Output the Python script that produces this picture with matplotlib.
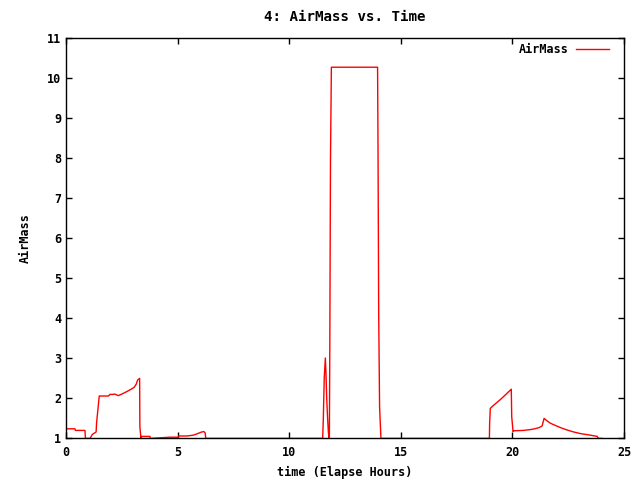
import matplotlib
matplotlib.use("Agg")
import matplotlib.pyplot as plt

# airmass track (elapsed hours, airmass)
# values of 0.99 mark the "off" stretches that sit on / below the axis
hours = [0.00, 0.02, 0.40, 0.42, 0.85, 0.87, 1.08, 1.18, 1.35, 1.37, 1.49,
         1.90, 1.97, 2.12, 2.17, 2.35, 2.47, 2.69, 2.92, 3.06, 3.15, 3.21,
         3.30, 3.31, 3.36, 3.39, 3.76, 3.78,
         4.66, 5.03, 5.05, 5.40, 5.70, 5.85, 6.08, 6.18, 6.24, 6.26,
         11.50, 11.53, 11.57, 11.62, 11.65, 11.68, 11.72, 11.75, 11.78,
         11.80, 11.82, 11.85, 11.89, 13.96, 13.98, 14.01, 14.05, 14.11,
         18.97, 18.98, 19.01, 19.10, 19.50, 19.95, 19.97, 20.03, 20.05,
         20.50, 20.80, 21.00, 21.20, 21.33, 21.42, 21.55, 21.70, 21.98,
         22.20, 22.45, 22.75, 23.05, 23.50, 23.80, 23.85, 24.00]
airmass = [1.25, 1.23, 1.23, 1.19, 1.19, 0.99, 0.99, 1.09, 1.15, 1.37, 2.05,
           2.05, 2.09, 2.09, 2.10, 2.06, 2.09, 2.15, 2.22, 2.27, 2.35, 2.45,
           2.49, 1.28, 0.99, 1.04, 1.04, 0.99,
           1.02, 1.02, 1.05, 1.05, 1.07, 1.10, 1.15, 1.16, 1.12, 0.99,
           0.99, 1.50, 2.50, 3.00, 2.60, 2.00, 1.50, 1.20, 0.99,
           0.99, 3.30, 7.95, 10.27, 10.27, 8.20, 4.10, 1.78, 0.99,
           0.99, 1.37, 1.74, 1.79, 1.98, 2.22, 1.53, 1.16, 1.18,
           1.19, 1.21, 1.23, 1.26, 1.30, 1.49, 1.43, 1.37, 1.30,
           1.25, 1.20, 1.15, 1.11, 1.07, 1.04, 0.99, 0.99]

x_ticks = [0, 5, 10, 15, 20, 25]
y_ticks = [1, 2, 3, 4, 5, 6, 7, 8, 9, 10, 11]

plt.rcParams['font.family'] = ['DejaVu Sans Mono']
plt.rcParams['font.weight'] = 'bold'
plt.rcParams['font.size'] = 8.5

fig = plt.figure(figsize=(6.4, 4.8), dpi=100)
ax = fig.add_axes([0.1031, 0.0875, 0.8719, 0.8333])

ax.plot(hours, airmass, color='red', linewidth=1.0, label='AirMass')

ax.set_xlim(0, 25)
ax.set_ylim(1, 11)
ax.set_xticks(x_ticks)
ax.set_yticks(y_ticks)
ax.tick_params(direction='in', length=4.5, width=1, top=True, right=True,
               colors='black')
ax.tick_params(axis='x', pad=6)
ax.tick_params(axis='y', pad=3.5)
for s in ax.spines.values():
    s.set_linewidth(1)
    s.set_color('black')

ax.set_title("4: AirMass vs. Time", fontweight='bold', pad=12)
ax.set_xlabel("time (Elapse Hours)", fontweight='bold', labelpad=5)
ax.set_ylabel("AirMass", fontweight='bold', labelpad=11)
ax.legend(loc='upper right', bbox_to_anchor=(0.982, 1.0), frameon=False,
          markerfirst=False, handlelength=2.8, handletextpad=0.6,
          borderaxespad=0)

fig.savefig("out.png", dpi=100)
